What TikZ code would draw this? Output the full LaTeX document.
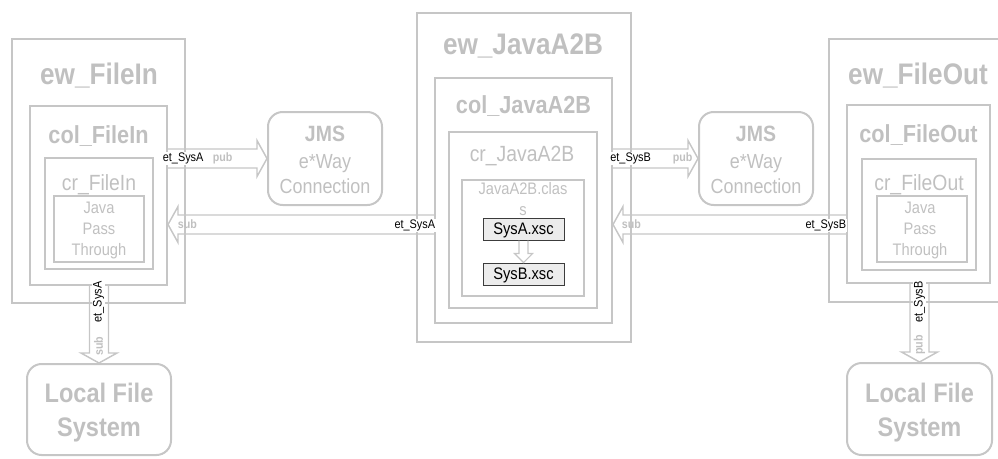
\documentclass[tikz,border=0pt]{standalone}
\usepackage{fontspec}
\setmainfont[FakeStretch=0.88]{Liberation Sans}
\usetikzlibrary{calc,fit}

\definecolor{boxgray}{RGB}{198,198,198}
\definecolor{txtgray}{RGB}{192,192,192}
\definecolor{xscfill}{RGB}{236,236,236}
\definecolor{xscline}{RGB}{60,60,60}

\tikzset{
  frame/.style={draw=boxgray, line width=1.5pt, inner sep=0pt, fit={#1}},
  thinframe/.style={draw=boxgray, line width=0.8pt, inner sep=0pt, fit={#1}},
  conn/.style={draw=boxgray, line width=1.5pt, rounded corners=11pt, inner sep=0pt, fit={#1}},
  xsc/.style={draw=xscline, fill=xscfill, line width=0.75pt, inner sep=0pt, fit={#1}},
  fat/.style={draw=boxgray, line width=1.1pt, line join=miter},
  ewtxt/.style={text=txtgray, font=\fontsize{22.3}{26}\selectfont\bfseries, anchor=base, inner sep=0pt},
  coltxt/.style={text=txtgray, font=\fontsize{18.5}{22}\selectfont\bfseries, anchor=base, inner sep=0pt},
  crtxt/.style={text=txtgray, font=\fontsize{16.5}{19}\selectfont, anchor=base, inner sep=0pt},
  comptxt/.style={text=txtgray, font=\fontsize{12.5}{15}\selectfont, anchor=base, inner sep=0pt},
  jmsbold/.style={text=txtgray, font=\fontsize{16.6}{19}\selectfont\bfseries, anchor=base, inner sep=0pt},
  jmstxt/.style={text=txtgray, font=\fontsize{15.3}{18}\selectfont, anchor=base, inner sep=0pt},
  lfstxt/.style={text=txtgray, font=\fontsize{20.1}{24}\selectfont\bfseries, anchor=base, inner sep=0pt},
  xsctxt/.style={text=black, font=\fontsize{12.5}{15}\selectfont, anchor=base, inner sep=0pt},
  tag/.style={text=black, fill=white, font=\fontsize{9.3}{11}\selectfont, inner sep=0.8pt},
  pubsub/.style={text=txtgray, font=\fontsize{9.1}{11}\selectfont\bfseries, inner sep=0.5pt},
}

% hollow fat arrow, horizontal: tail #1, tip #2, direction #3 (1 = right, -1 = left)
\newcommand\fatH[3]{%
  \draw[fat] ($(#1)+(0,-9.5)$) -- ($(#2)+(#3*-10,-9.5)$) -- ($(#2)+(#3*-10,-18)$)
    -- (#2) -- ($(#2)+(#3*-10,18)$) -- ($(#2)+(#3*-10,9.5)$) -- ($(#1)+(0,9.5)$);}
% hollow fat arrow pointing down: tail #1, tip #2
\newcommand\fatV[2]{%
  \draw[fat] ($(#1)+(-9.5,0)$) -- ($(#2)+(-9.5,-10)$) -- ($(#2)+(-18,-10)$)
    -- (#2) -- ($(#2)+(18,-10)$) -- ($(#2)+(9.5,-10)$) -- ($(#1)+(9.5,0)$);}

\begin{document}
\begin{tikzpicture}[x=0.75pt,y=-0.75pt]
\clip (0,0) rectangle (998,458);

% ---------- ew_FileIn ----------
\node[frame={(12,39) (185,303)}] (ewIn) {};
\node[frame={(30,106) (167,285)}] (colIn) {};
\node[thinframe={(45,158) (153,269)}] (crIn) {};
\node[thinframe={(54,196) (144,262)}] (jptIn) {};
\node[ewtxt] (ewInT) at (99,84) {ew\_FileIn};
\node[coltxt] (colInT) at (98.5,143) {col\_FileIn};
\node[crtxt] (crInT) at (99,190) {cr\_FileIn};
\node[comptxt] (jptIn1) at (99,213) {Java};
\node[comptxt] (jptIn2) at (99,234) {Pass};
\node[comptxt] (jptIn3) at (99,255) {Through};

% ---------- ew_JavaA2B ----------
\node[frame={(417,13) (631,342)}] (ewAB) {};
\node[frame={(435,78) (612,323)}] (colAB) {};
\node[thinframe={(449,132) (597,308)}] (crAB) {};
\node[thinframe={(462,180) (584,296)}] (clsAB) {};
\node[xsc={(483,218) (564,240)}] (sysA) {};
\node[xsc={(483,263) (564,285)}] (sysB) {};
\node[ewtxt] (ewABT) at (523,54) {ew\_JavaA2B};
\node[coltxt] (colABT) at (523.5,113) {col\_JavaA2B};
\node[crtxt] (crABT) at (522,161) {cr\_JavaA2B};
\node[comptxt] (clsAB1) at (523,194) {JavaA2B.clas};
\node[comptxt] (clsAB2) at (523,215) {s};
\node[xsctxt] (sysAT) at (523.5,234) {SysA.xsc};
\node[xsctxt] (sysBT) at (523.5,279) {SysB.xsc};

% ---------- ew_FileOut ----------
\node[frame={(829,39) (1012,302)}] (ewOut) {};
\node[frame={(847,105) (990,283)}] (colOut) {};
\node[thinframe={(862,159) (976,270)}] (crOut) {};
\node[thinframe={(877,196) (967,262)}] (jptOut) {};
\node[ewtxt] (ewOutT) at (918,84) {ew\_FileOut};
\node[coltxt] (colOutT) at (918.5,142) {col\_FileOut};
\node[crtxt] (crOutT) at (919,190) {cr\_FileOut};
\node[comptxt] (jptOut1) at (920,213) {Java};
\node[comptxt] (jptOut2) at (920,234) {Pass};
\node[comptxt] (jptOut3) at (920,255) {Through};

% ---------- JMS connections ----------
\node[conn={(268,112) (382,205)}] (jmsA) {};
\node[jmsbold] (jmsA1) at (325,141) {JMS};
\node[jmstxt] (jmsA2) at (325,168) {e*Way};
\node[jmstxt] (jmsA3) at (325,193) {Connection};

\node[conn={(699,112) (813,205)}] (jmsB) {};
\node[jmsbold] (jmsB1) at (756,141) {JMS};
\node[jmstxt] (jmsB2) at (756,168) {e*Way};
\node[jmstxt] (jmsB3) at (756,193) {Connection};

% ---------- local file systems ----------
\node[conn={(27,364) (171,455)}] (lfsA) {};
\node[lfstxt] (lfsA1) at (99,402) {Local File};
\node[lfstxt] (lfsA2) at (99,436) {System};

\node[conn={(847,363) (992,455)}] (lfsB) {};
\node[lfstxt] (lfsB1) at (919.5,402) {Local File};
\node[lfstxt] (lfsB2) at (919.5,436) {System};

% ---------- event-type arrows ----------
\coordinate (subrow) at (0,224.5);
\fatH{colIn.east |- jmsA.west}{jmsA.west}{1}
\fatH{colAB.east |- jmsB.west}{jmsB.west}{1}
\fatH{colAB.west |- subrow}{colIn.east |- subrow}{-1}
\fatH{colOut.west |- subrow}{colAB.east |- subrow}{-1}
\fatV{colIn.south -| lfsA.north}{lfsA.north}
\fatV{colOut.south -| lfsB.north}{lfsB.north}

% SysA.xsc -> SysB.xsc
\draw[draw=boxgray, line width=0.8pt]
  ($(sysA.south)+(-4.5,0)$) -- ($(sysB.north)+(-4.5,-9)$) -- ($(sysB.north)+(-9,-9)$)
  -- (sysB.north) -- ($(sysB.north)+(9,-9)$) -- ($(sysB.north)+(4.5,-9)$) -- ($(sysA.south)+(4.5,0)$);

% ---------- arrow labels ----------
\node[tag, anchor=base west] (tagA1) at (161.5,161.5) {et\_SysA};
\node[pubsub, anchor=base west] (pubA) at (212,161.5) {pub};
\node[pubsub, anchor=base west] (subA) at (177,228.5) {sub};
\node[tag, anchor=base east] (tagA2) at (436.5,228.5) {et\_SysA};

\node[tag, anchor=base west] (tagB1) at (609,161.5) {et\_SysB};
\node[pubsub, anchor=base west] (pubB) at (672,161.5) {pub};
\node[pubsub, anchor=base west] (subB) at (621,228.5) {sub};
\node[tag, anchor=base east] (tagB2) at (847.5,228.5) {et\_SysB};

\node[tag, rotate=90] (tagA3) at (98.5,302) {et\_SysA};
\node[pubsub, rotate=90] (subA3) at (98.5,346) {sub};
\node[tag, rotate=90] (tagB3) at (919.5,302) {et\_SysB};
\node[pubsub, rotate=90] (pubB3) at (919.5,345) {pub};
\end{tikzpicture}
\end{document}
